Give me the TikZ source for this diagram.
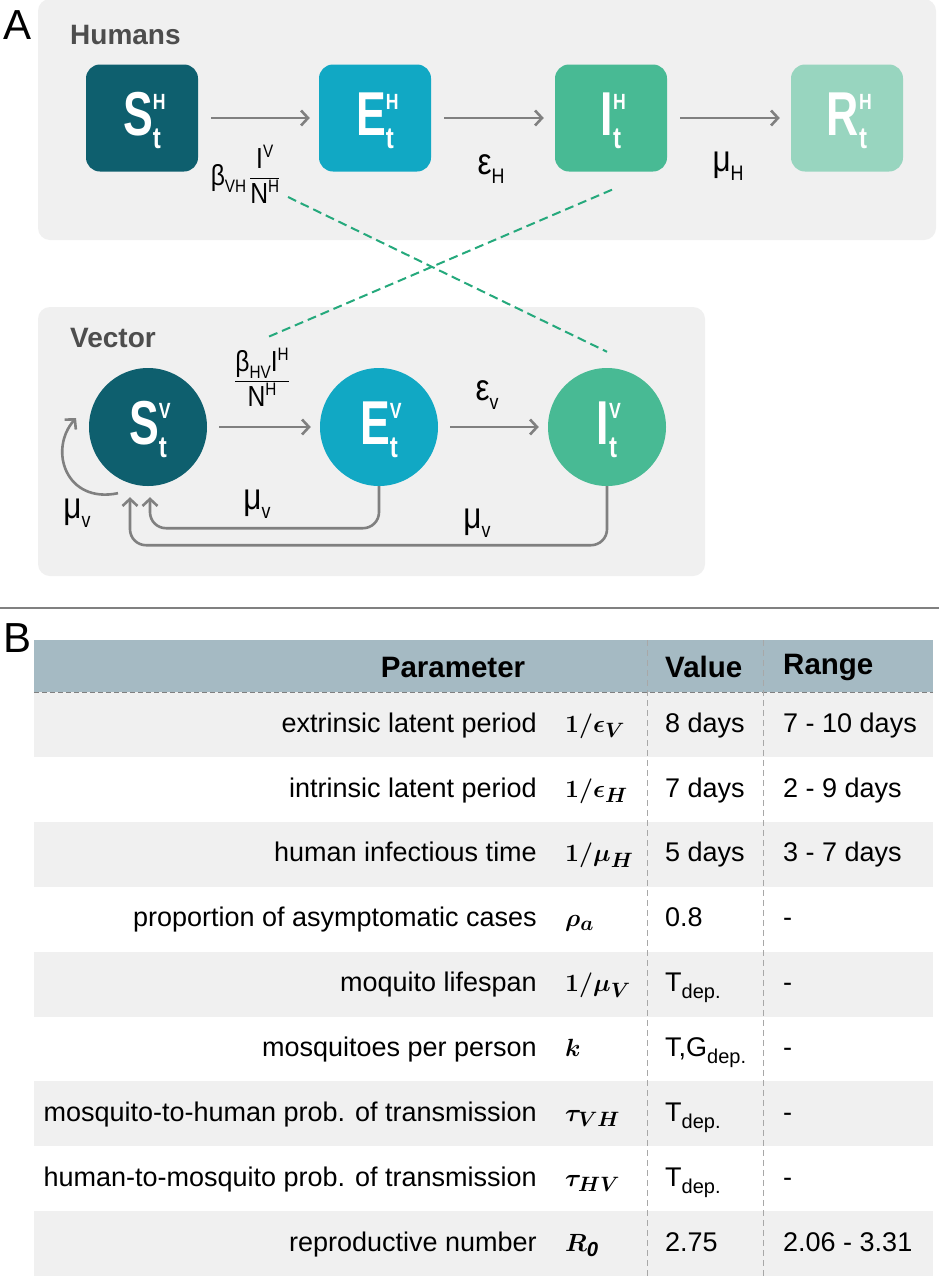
\documentclass[tikz,border=0pt]{standalone}
\usepackage{amsmath}
\usepackage{fontspec}
\setmainfont{Liberation Sans}
\usepackage{graphicx}
\usetikzlibrary{arrows.meta,calc}
\definecolor{cS}{HTML}{0E5F6E}
\definecolor{cE}{HTML}{11A8C4}
\definecolor{cI}{HTML}{48BA94}
\definecolor{cR}{HTML}{98D5BF}
\definecolor{panel}{HTML}{F0F0F0}
\definecolor{arr}{HTML}{808080}
\definecolor{dsh}{HTML}{25A97C}
\definecolor{hdr}{HTML}{A5BAC3}
\definecolor{titl}{HTML}{4D4D4D}
\definecolor{tline}{HTML}{A8A8A8}
\newcommand{\cmp}[2]{\scalebox{0.72}[1]{\fontsize{62}{62}\selectfont\bfseries #1}\rlap{\raisebox{26pt}{\scalebox{0.8}[1]{\fontsize{22}{22}\selectfont\bfseries #2}}}\raisebox{-13pt}{\scalebox{0.8}[1]{\fontsize{30}{30}\selectfont\bfseries t}}}
\newcommand{\lb}[1]{\scalebox{0.85}[1]{#1}}
\newcommand{\sbs}[1]{\raisebox{-7pt}{\fontsize{18}{18}\selectfont #1}}
\newcommand{\sps}[1]{\raisebox{11pt}{\fontsize{18}{18}\selectfont #1}}
\newcommand{\gsb}[1]{\raisebox{-9pt}{\fontsize{21}{21}\selectfont #1}}
\newcommand{\fr}[2]{{\setlength{\arrayrulewidth}{1.3pt}\renewcommand{\arraystretch}{1.0}\begin{tabular}[c]{@{}c@{}}#1\\\hline\rule{0pt}{24pt}#2\end{tabular}}}
\newcommand{\dep}{\raisebox{-7pt}{\fontsize{20}{20}\selectfont dep.}}
\tikzset{
  hbox/.style={rectangle, rounded corners=14pt, minimum width=112pt, minimum height=107pt, inner sep=0pt, text=white, text height=44pt, text depth=10pt},
  vcirc/.style={circle, minimum size=118pt, inner sep=0pt, text=white, text height=44pt, text depth=10pt},
  flow/.style={draw=arr, line width=2.6pt, -{Straight Barb[length=7pt,width=15pt]}},
  link/.style={draw=dsh, line width=2pt, dash pattern=on 9pt off 5pt},
  pnl/.style={fill=panel, rounded corners=12pt},
  lbl/.style={inner sep=0pt, font=\fontsize{29}{31}\selectfont},
  glbl/.style={inner sep=0pt, font=\fontsize{37}{39}\selectfont},
  ttl/.style={inner sep=0pt, font=\fontsize{28}{30}\selectfont\bfseries, text=titl},
  big/.style={inner sep=0pt, font=\fontsize{42}{44}\selectfont},
  tx/.style={inner sep=0pt, font=\fontsize{27}{29}\selectfont},
  sym/.style={inner sep=0pt, font=\fontsize{29}{31}\selectfont\boldmath},
  hd/.style={inner sep=0pt, font=\fontsize{29.5}{31}\selectfont\bfseries},
  tdash/.style={draw=tline, line width=1pt, dash pattern=on 6pt off 4pt},
}
\begin{document}
\begin{tikzpicture}[x=1pt,y=-1pt]
\useasboundingbox (0,0) rectangle (939,1280);
\fill[white] (0,0) rectangle (939,1280);

% ---------- Panel A ----------
\node[big] (labA) at (18,25) {A};
\fill[pnl] (38,-1) rectangle (936,240);
\node[ttl, anchor=west] (tH) at (70,35) {Humans};

\node[hbox, fill=cS] (SH) at (142,118) {\cmp{S}{H}};
\node[hbox, fill=cE] (EH) at (375,118) {\cmp{E}{H}};
\node[hbox, fill=cI] (IH) at (611,118) {\cmp{I}{H}};
\node[hbox, fill=cR] (RH) at (847,118) {\cmp{R}{H}};

\draw[flow, shorten <=13pt, shorten >=9pt] (SH) -- (EH);
\draw[flow, shorten <=13pt, shorten >=11pt] (EH) -- (IH);
\draw[flow, shorten <=13pt, shorten >=11pt] (IH) -- (RH);

\node[lbl] (lVH) at (245,179) {\lb{β\sbs{VH}\,\fr{I\sps{V}}{N\sps{H}}}};
\node[glbl] (lEH) at (491,169) {\lb{ε\gsb{H}}};
\node[glbl] (lMH) at (728,166) {\lb{μ\gsb{H}}};

\fill[pnl] (38,307) rectangle (705,576);
\node[ttl, anchor=west] (tV) at (70,338) {Vector};

\node[vcirc, fill=cS] (SV) at (148,427) {\cmp{S}{V}};
\node[vcirc, fill=cE] (EV) at (379,427) {\cmp{E}{V}};
\node[vcirc, fill=cI] (IV) at (607,427) {\cmp{I}{V}};

\draw[flow, shorten <=12pt, shorten >=9pt] (SV) -- (EV);
\draw[flow, shorten <=12pt, shorten >=9pt] (EV) -- (IV);

\node[lbl] (lHV) at (262,382) {\lb{\fr{β\sbs{HV}I\sps{H}}{N\sps{H}}}};
\node[glbl] (lEV) at (487,395) {\lb{ε\gsb{v}}};
\node[glbl] (lM1) at (77,513) {\lb{μ\gsb{v}}};
\node[glbl] (lM2) at (257,504) {\lb{μ\gsb{v}}};
\node[glbl] (lM3) at (477,523) {\lb{μ\gsb{v}}};

\draw[flow] ($(SV.south)+(-30,7)$) .. controls (66,504) and (48,450) .. (76,418);
\draw[flow, rounded corners=16pt] (EV.south) -- ++(0,42) -| ($(SV.south)+(2,11)$);
\draw[flow, rounded corners=16pt] (IV.south) -- ++(0,59) -| ($(SV.south)+(-18,11)$);

% dashed cross links
\coordinate (d1s) at (288,197);
\coordinate (d2e) at (268,337);
\draw[link] (d1s) -- ($(IV.north)+(0,-16)$);
\draw[link] ($(IH.south)+(1,18)$) -- (d2e);

% separator
\draw[draw=arr, line width=1.5pt] (0,608) -- (939,608);

% ---------- Panel B ----------
\node[big] (labB) at (18,638) {B};
\fill[hdr] (34,640) rectangle (933,692);
\foreach \k in {0,2,4,6,8} {
  \fill[panel] (34,{692+\k*64.9}) rectangle (933,{692+(\k+1)*64.9});
}
\draw[draw=arr, line width=1pt, dash pattern=on 5pt off 3pt] (34,692) -- (933,692);
\draw[tdash] (647,640) -- (647,1280);
\draw[tdash] (763,640) -- (763,1280);

\node[hd] (hP) at (453,667) {Parameter};
\node[hd, anchor=west] (hV) at (665,667) {Value};
\node[hd, anchor=west] (hR) at (783,667) {Range};

\foreach \p/\s/\v/\r [count=\i from 0] in {
  {extrinsic latent period}/{$1/\epsilon_{V}$}/{8 days}/{7 - 10 days},
  {intrinsic latent period}/{$1/\epsilon_{H}$}/{7 days}/{2 - 9 days},
  {human infectious time}/{$1/\mu_{H}$}/{5 days}/{3 - 7 days},
  {proportion of asymptomatic cases}/{$\rho_{a}$}/{0.8}/{-},
  {moquito lifespan}/{$1/\mu_{V}$}/{T\dep}/{-},
  {mosquitoes per person}/{$k$}/{T,G\dep}/{-},
  {mosquito-to-human prob. of transmission}/{$\tau_{VH}$}/{T\dep}/{-},
  {human-to-mosquito prob. of transmission}/{$\tau_{HV}$}/{T\dep}/{-},
  {reproductive number}/{$R_{\mathit{0}}$}/{2.75}/{2.06 - 3.31}} {
  \node[tx, anchor=mid east] (p\i) at (537,{697+(\i+0.5)*64.9}) {\p};
  \node[sym, anchor=mid west] (s\i) at (565,{697+(\i+0.5)*64.9}) {\s};
  \node[tx, anchor=mid west] (v\i) at (665,{697+(\i+0.5)*64.9}) {\v};
  \node[tx, anchor=mid west] (r\i) at (783,{697+(\i+0.5)*64.9}) {\r};
}
\end{tikzpicture}
\end{document}
